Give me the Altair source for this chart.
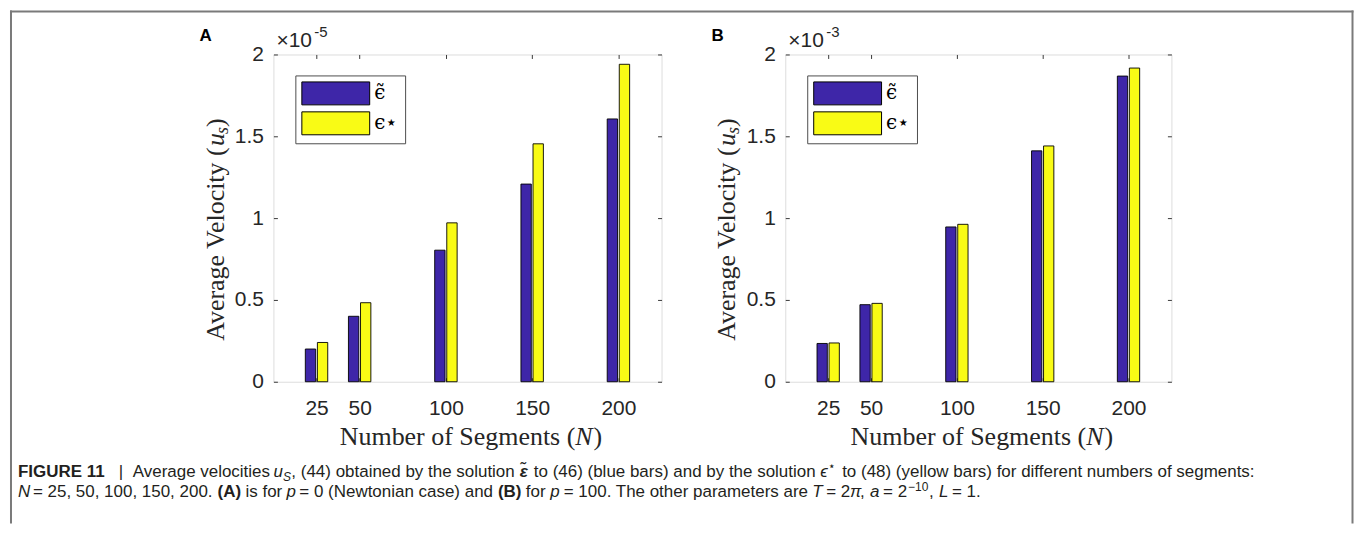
import altair as alt
import pandas as pd

# ---------------- data ----------------
N_values = [25, 50, 100, 150, 200]
series_names = ["ϵ̃", "ϵ⋆"]
colors = ["#3E26A8", "#F9FB15"]
# panel A values (x 1e-5)
A_tilde = [0.200, 0.400, 0.804, 1.208, 1.606]
A_star = [0.240, 0.483, 0.971, 1.454, 1.940]
# panel B values (x 1e-3)
B_tilde = [0.234, 0.471, 0.946, 1.411, 1.868]
B_star = [0.237, 0.479, 0.962, 1.441, 1.917]
x_ticks = [25, 50, 100, 150, 200]
y_ticks = [0, 0.5, 1, 1.5, 2]
x_domain = [0, 225]
y_domain = [0, 2]
panel_letters = ["A", "B"]
exponents = ["-5", "-3"]
y_title_parts = ["Average Velocity (", "u", "s", ")"]
x_title_parts = ["Number of Segments (", "N", ")"]

caption_line1 = [
    ("FIGURE 11", 16, "b"), ("|", 117, "n"), ("Average velocities", 131, "n"),
    ("u", 272, "i"), ("S", 281.5, "sub"), (", (44) obtained by the solution", 290, "n"),
    ("ε̃", 519, "bi"), ("to (46) (blue bars) and by the solution", 533, "n"),
    ("ϵ", 820, "i"), ("⋆", 828, "sup"),
    ("to (48) (yellow bars) for different numbers of segments:", 842, "n"),
]
caption_line2 = [
    ("N", 16, "i"), ("= 25, 50, 100, 150, 200.", 31, "n"), ("(A)", 216, "b"),
    ("is for", 244, "n"), ("p", 285, "i"), ("= 0 (Newtonian case) and", 298, "n"),
    ("(B)", 497, "b"), ("for", 525, "n"), ("p", 549.5, "i"),
    ("= 100. The other parameters are", 563, "n"), ("T", 812, "i"), ("= 2", 826, "n"),
    ("π", 850, "i"), (",", 860, "n"), ("a", 870, "i"), ("= 2", 883, "n"),
    ("−10", 908, "sup"), (",", 929, "n"), ("L", 939, "i"), ("= 1.", 952, "n"),
]

# ---------------- style ----------------
AX = "#3a3a3a"
LAB = "#262626"
SANS = "Liberation Sans"
SERIF = "Liberation Serif"
H = 328
W_A = 389
W_B = 387
ORIGIN_X, ORIGIN_Y = 272, 52  # page position of panel A plot origin
TITLE_SIZE = 26
CAP_SIZE = 17


def txt(s, x, y, **kw):
    return alt.Chart(pd.DataFrame({"t": [s]})).mark_text(**kw).encode(
        x=alt.value(x), y=alt.value(y), text="t:N")


def make_panel(tilde, star, letter, exponent, width, extras=False):
    rows = []
    for n, a, b in zip(N_values, tilde, star):
        rows.append(dict(N=n, series=series_names[0], v=a, base=0.0, x0=n - 6.5, x1=n - 0.5))
        rows.append(dict(N=n, series=series_names[1], v=b, base=0.0, x0=n + 0.5, x1=n + 6.5))
    df = pd.DataFrame(rows)
    xs = alt.Scale(domain=x_domain, nice=False, zero=False)
    ys = alt.Scale(domain=y_domain, nice=False, zero=False)
    tick_style = dict(tickColor=AX, tickWidth=1, tickSize=4, offset=-4, domain=False,
                      grid=False, title=None, labelFont=SANS, labelFontSize=21,
                      labelColor=LAB, labelOverlap=False, labelFlush=False)
    bars = alt.Chart(df).mark_rect(stroke="#000000", strokeWidth=0.9).encode(
        x=alt.X("x0:Q", scale=xs,
                axis=alt.Axis(orient="bottom", values=x_ticks, labelPadding=16, **tick_style)),
        x2="x1:Q",
        y=alt.Y("v:Q", scale=ys,
                axis=alt.Axis(orient="left", values=y_ticks, format="~g", labelPadding=10,
                              **tick_style)),
        y2="base:Q",
        color=alt.Color(
            "series:N",
            scale=alt.Scale(domain=series_names, range=colors),
            legend=alt.Legend(
                orient="none", legendX=22, legendY=21, title=None, direction="vertical",
                symbolType="M-1,-1L4.913,-1L4.913,1L-1,1Z", symbolSize=529,
                symbolStrokeColor="#000000", symbolStrokeWidth=1, symbolOpacity=1,
                strokeColor="#4d4d4d", fillColor="#ffffff", padding=6, rowPadding=2,
                labelFont="DejaVu Serif", labelFontSize=20, labelOffset=49,
                labelColor="#000000", labelLimit=0),
        ),
    )
    tk = pd.DataFrame({"tx": x_ticks, "ty": y_ticks})
    box_axes = alt.Chart(tk).mark_point(opacity=0).encode(
        x=alt.X("tx:Q", scale=xs, axis=alt.Axis(orient="top", values=x_ticks, labels=False, **tick_style)),
        y=alt.Y("ty:Q", scale=ys, axis=alt.Axis(orient="right", values=y_ticks, labels=False, **tick_style)),
    )
    layers = [bars, box_axes]
    # panel letter and exponent
    layers.append(txt(letter, -74, -14, font=SANS, fontSize=17, fontWeight="bold",
                      align="left", baseline="alphabetic", color="#000000"))
    layers.append(txt("×10", 3, -7, font=SANS, fontSize=21, align="left",
                      baseline="alphabetic", color=LAB))
    layers.append(txt(exponent, 41, -18, font=SANS, fontSize=15, align="left",
                      baseline="alphabetic", color=LAB))
    # y title pieces (rotated)
    fs = TITLE_SIZE
    y0 = 287
    w1 = 7.664 * fs - 5
    ys_u = y0 - w1 - 1
    ys_s = ys_u - 0.5 * fs + 1
    ys_p = ys_s - 7
    layers.append(txt(y_title_parts[0], -50, y0, font=SERIF, fontSize=fs, angle=270,
                      align="left", baseline="alphabetic", color=LAB))
    layers.append(txt(y_title_parts[1], -50, ys_u, font=SERIF, fontSize=fs, angle=270,
                      fontStyle="italic", align="left", baseline="alphabetic", color=LAB))
    layers.append(txt(y_title_parts[2], -46, ys_s, font=SERIF, fontSize=18,
                      angle=270, fontStyle="italic", align="left", baseline="alphabetic", color=LAB))
    layers.append(txt(y_title_parts[3], -50, ys_p, font=SERIF, fontSize=fs,
                      angle=270, align="left", baseline="alphabetic", color=LAB))
    # x title pieces
    xw1 = 9.08 * fs
    xstart = width / 2 - 131 + 3
    layers.append(txt(x_title_parts[0], xstart, 391, font=SERIF, fontSize=fs, align="left",
                      baseline="alphabetic", color=LAB))
    layers.append(txt(x_title_parts[1], xstart + xw1, 391, font=SERIF, fontSize=fs,
                      fontStyle="italic", align="left", baseline="alphabetic", color=LAB))
    layers.append(txt(x_title_parts[2], xstart + xw1 + 0.667 * fs + 1, 391, font=SERIF,
                      fontSize=fs, align="left", baseline="alphabetic", color=LAB))

    if extras:
        frame = pd.DataFrame({"a": [0]})
        fr = dict(color="#7a7a7a", strokeWidth=2)
        layers.append(alt.Chart(frame).mark_rule(**fr).encode(
            x=alt.value(-263), y=alt.value(-44), y2=alt.value(470)))
        layers.append(alt.Chart(frame).mark_rule(**fr).encode(
            x=alt.value(1081.5), y=alt.value(-44), y2=alt.value(470)))
        layers.append(alt.Chart(frame).mark_rule(**fr).encode(
            x=alt.value(-264), x2=alt.value(1082.5), y=alt.value(-43)))
        styles = {
            "n": dict(fontSize=CAP_SIZE),
            "b": dict(fontSize=CAP_SIZE, fontWeight="bold"),
            "i": dict(fontSize=CAP_SIZE, fontStyle="italic"),
            "bi": dict(fontSize=CAP_SIZE, fontStyle="italic", fontWeight="bold"),
            "sub": dict(fontSize=12, fontStyle="italic", dy=4),
            "sup": dict(fontSize=12, dy=-7),
        }
        recs = []
        for line, py in ((caption_line1, 475), (caption_line2, 496)):
            for s, px, st in line:
                recs.append(dict(t=s, px=px - ORIGIN_X, py=py - ORIGIN_Y, st=st))
        cap = pd.DataFrame(recs)
        for st, kw in styles.items():
            sub = cap[cap["st"] == st]
            if len(sub) == 0:
                continue
            layers.append(alt.Chart(sub).mark_text(
                font=SANS, align="left", baseline="alphabetic", color="#231f20", **kw).encode(
                x=alt.X("px:Q", scale=None, axis=None),
                y=alt.Y("py:Q", scale=None, axis=None),
                text="t:N"))

    return alt.layer(*layers).resolve_axis(x="independent", y="independent").properties(
        width=width, height=H)


pA = make_panel(A_tilde, A_star, panel_letters[0], exponents[0], W_A, extras=True)
pB = make_panel(B_tilde, B_star, panel_letters[1], exponents[1], W_B)

chart = alt.hconcat(pA, pB, spacing=124, bounds="flush", padding=0).resolve_scale(
    color="independent").resolve_legend(color="independent").configure_view(
    stroke=AX, strokeWidth=1).configure(background="white")

chart.save("out.html", embed_options={"renderer": "svg", "actions": False})
